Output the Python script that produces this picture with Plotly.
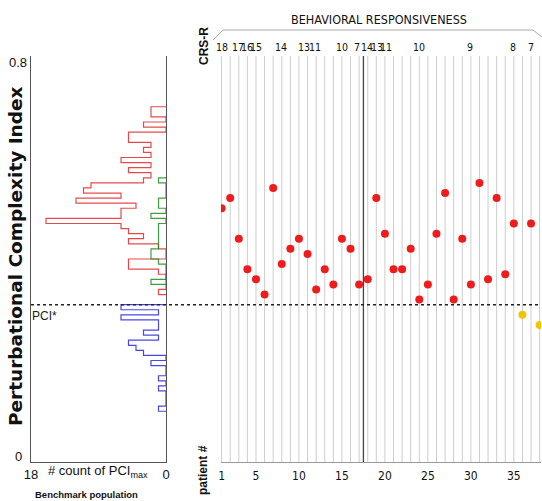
import plotly.graph_objects as go

W, H = 542, 501
def px(x): return x / W
def py(y): return 1 - y / H

# ---------------- data ----------------
patients = list(range(1, 39))
pci_max = [0.50, 0.52, 0.44, 0.38, 0.36, 0.33, 0.54, 0.39, 0.42, 0.44,
           0.41, 0.34, 0.38, 0.35, 0.44, 0.42, 0.35, 0.36, 0.52, 0.45,
           0.38, 0.38, 0.42, 0.32, 0.35, 0.45, 0.53, 0.32, 0.44, 0.35,
           0.55, 0.36, 0.52, 0.37, 0.47, 0.29, 0.47, 0.27]
pci_star = 0.31
group1_size = 17

crs_labels = ["18", "17", "16", "15", "14", "13", "11", "10", "7",
              "14", "13", "11", "10", "9", "8", "7"]
crs_pos = [1, 2.9, 4, 5, 7.9, 10.6, 11.85, 15, 16.7,
           17.9, 19.1, 20.1, 24, 29.9, 34.9, 37]
patient_ticks = [1, 5, 10, 15, 20, 25, 30, 35]

bin_width = 0.01
red_bins = [0.33, 0.37, 0.38, 0.39, 0.42, 0.43, 0.44, 0.45, 0.46, 0.47,
            0.48, 0.49, 0.50, 0.51, 0.52, 0.53, 0.54, 0.55, 0.56, 0.57,
            0.58, 0.59, 0.60, 0.61, 0.62, 0.63, 0.64, 0.66, 0.68, 0.69]
red_counts = [1, 1, 5, 5, 1, 5, 3, 5, 6, 16,
              6, 6, 4, 12, 6, 11, 10, 3, 2, 5,
              2, 6, 2, 3, 2, 5, 5, 3, 2, 2]
green_bins = [0.35, 0.39, 0.40, 0.41, 0.42, 0.43, 0.44, 0.45, 0.46, 0.48, 0.50, 0.51, 0.55]
green_counts = [2, 1, 2, 2, 1, 1, 1, 1, 1, 2, 1, 1, 1]
blue_bins = [0.10, 0.14, 0.16, 0.19, 0.21, 0.22, 0.23, 0.24, 0.25, 0.26, 0.27, 0.28, 0.29, 0.30]
blue_counts = [1, 1, 1, 2, 3, 4, 5, 1, 3, 1, 1, 6, 1, 6]


def stairs(lows, counts, w):
    d = {round(l / w): c for l, c in zip(lows, counts)}
    kmin, kmax = min(d), max(d)
    xs, ys = [0], [kmin * w]
    for k in range(kmin, kmax + 1):
        c = d.get(k, 0)
        xs += [c, c]
        ys += [k * w, (k + 1) * w]
    xs.append(0)
    ys.append((kmax + 1) * w)
    return xs, ys


fig = go.Figure()

for bins, counts, col in [(red_bins, red_counts, "rgba(220,30,30,0.8)"),
                          (green_bins, green_counts, "rgba(30,140,30,0.85)"),
                          (blue_bins, blue_counts, "rgba(40,40,220,0.85)")]:
    xs, ys = stairs(bins, counts, bin_width)
    fig.add_trace(go.Scatter(x=xs, y=ys, mode="lines", xaxis="x", yaxis="y",
                             line=dict(color=col, width=1.2), hoverinfo="skip",
                             showlegend=False))

# vertical patient lines
vx, vy = [], []
for p in patients:
    vx += [p, p, None]
    vy += [0, 0.8, None]
fig.add_trace(go.Scatter(x=vx, y=vy, mode="lines", xaxis="x2", yaxis="y2",
                         line=dict(color="#cdcdcd", width=1), hoverinfo="skip",
                         showlegend=False))
sep = group1_size + 0.5
fig.add_trace(go.Scatter(x=[sep, sep], y=[0, 0.8], mode="lines", xaxis="x2", yaxis="y2",
                         line=dict(color="#444444", width=1.3), hoverinfo="skip",
                         showlegend=False))

colors = ["#ee1c1c" if v >= pci_star else "#f5c400" for v in pci_max]
fig.add_trace(go.Scatter(x=patients, y=pci_max, mode="markers", xaxis="x2", yaxis="y2",
                         marker=dict(color=colors, size=8, line=dict(width=0)),
                         showlegend=False))

ydom = [py(462), py(56)]
narrow = "DejaVu Sans Condensed, Liberation Sans Narrow, Liberation Sans, Arial"
reg = "Liberation Sans, Arial"

fig.update_layout(
    width=W, height=H, margin=dict(l=0, r=0, t=0, b=0, autoexpand=False),
    paper_bgcolor="white", plot_bgcolor="white", showlegend=False,
    xaxis=dict(domain=[px(31), px(166)], range=[18, 0], showgrid=False, zeroline=False,
               showline=True, linecolor="#555", linewidth=1.2, ticks="", automargin=False,
               tickvals=[18, 0], ticktext=["18", "0"],
               tickfont=dict(family=reg, size=13, color="#111")),
    yaxis=dict(domain=ydom, range=[0, 0.8], showgrid=False, zeroline=False, automargin=False,
               showline=True, linecolor="#555", linewidth=1.2, mirror=True,
               showticklabels=False, ticks=""),
    xaxis2=dict(domain=[px(221), px(541)], range=[0.93, 38.16], anchor="y2", automargin=False,
                showgrid=False, zeroline=False, showline=True, linecolor="#999",
                linewidth=1, ticks="", tickvals=patient_ticks, ticklabelstandoff=3,
                tickfont=dict(family=narrow, size=12, color="#111")),
    yaxis2=dict(domain=ydom, range=[0, 0.8], anchor="x2", visible=False, automargin=False),
)

shapes = [
    dict(type="line", xref="paper", yref="y", x0=px(31), x1=px(541), y0=pci_star, y1=pci_star,
         line=dict(color="#222", width=1.6, dash="dot")),
    dict(type="path", xref="paper", yref="paper",
         path=f"M {px(213)} {py(40)} L {px(223)} {py(30)} L {px(533)} {py(30)} L {px(542)} {py(37)}",
         line=dict(color="#aaa", width=1)),
]
fig.update_layout(shapes=shapes)

def A(x, y, text, size, family=reg, angle=0, xref="paper", yref="paper", color="#111"):
    return dict(x=x, y=y, xref=xref, yref=yref, text=text, showarrow=False,
                xanchor="center", yanchor="middle", textangle=angle,
                font=dict(family=family, size=size, color=color))

ann = [A(pos, py(47), lab, 10.5, family=narrow, xref="x2") for lab, pos in zip(crs_labels, crs_pos)]
ann += [
    A(px(379), py(19), "BEHAVIORAL RESPONSIVENESS", 12.5, family=narrow),
    A(px(204), py(46), "<b>CRS-R</b>", 12, angle=-90),
    A(px(203), py(470), "<b>patient #</b>", 12, angle=-90),
    A(px(16), py(256), "<b>Perturbational Complexity Index</b>", 18.5,
      family="DejaVu Sans, Liberation Sans", angle=-90),
    A(px(18), py(63), "0.8", 13),
    A(px(18), py(456), "0", 13),
    A(px(44), py(316), "PCI*", 12, color="#222"),
    A(px(98), py(471), "# count of PCI<sub>max</sub>", 13),
    A(px(86), py(494), "<b>Benchmark population</b>", 9.5),
]
fig.update_layout(annotations=ann)

fig.write_html("out.html", config={"displayModeBar": False},
               post_script="document.body.style.margin='0';")
